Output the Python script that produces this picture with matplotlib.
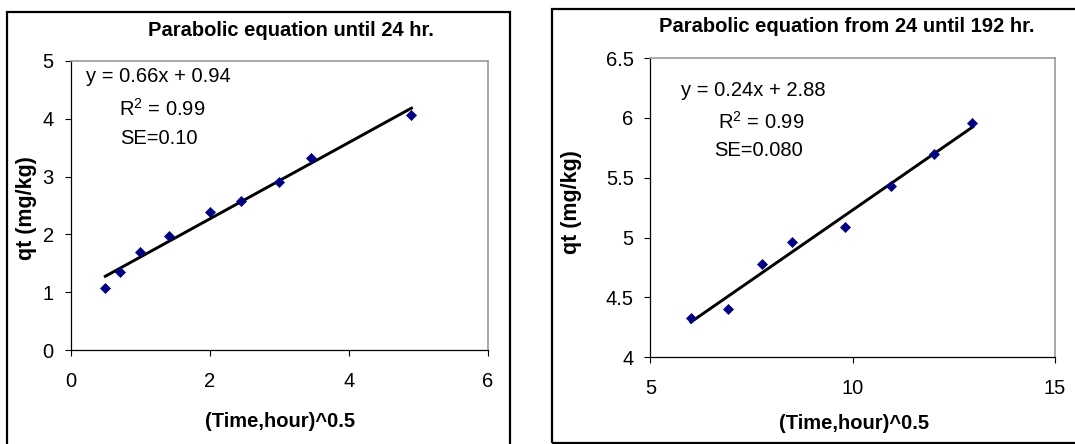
import numpy as np
import matplotlib
matplotlib.use('Agg')
import matplotlib.pyplot as plt
from matplotlib.patches import Rectangle

plt.rcParams['font.family'] = ['Liberation Sans', 'DejaVu Sans']
plt.rcParams['mathtext.fontset'] = 'custom'
plt.rcParams['mathtext.rm'] = 'Liberation Sans'
plt.rcParams['mathtext.it'] = 'Liberation Sans:italic'
plt.rcParams['mathtext.bf'] = 'Liberation Sans:bold'

# Data: (time, hour)^0.5 vs qt (mg/kg)
x_until24 = [0.5, 0.71, 1.0, 1.41, 2.0, 2.45, 3.0, 3.46, 4.9]
qt_until24 = [1.08, 1.35, 1.69, 1.97, 2.39, 2.57, 2.91, 3.33, 4.06]

x_24to192 = [6.0, 6.93, 7.75, 8.49, 9.8, 10.95, 12.0, 12.96]
qt_24to192 = [4.33, 4.40, 4.78, 4.96, 5.09, 5.43, 5.70, 5.955]

titles = ['Parabolic equation until 24 hr.', 'Parabolic equation from 24 until 192 hr.']
eq_texts = [['y = 0.66x + 0.94', r'R$\mathregular{^2}$ = 0.99', 'SE=0.10'],
            ['y = 0.24x + 2.88', r'R$\mathregular{^2}$ = 0.99', 'SE=0.080']]
x_ticks = [[0, 2, 4, 6], [5, 10, 15]]
y_ticks = [[0, 1, 2, 3, 4, 5], [4, 4.5, 5, 5.5, 6, 6.5]]
y_ticklabels = [['0', '1', '2', '3', '4', '5'], ['4', '4.5', '5', '5.5', '6', '6.5']]

W, H = 1075, 444
fig = plt.figure(figsize=(W / 100, H / 100), dpi=100)

def fx(px):
    return px / W

def fy(py):
    return 1 - py / H

FS = 14.5

# outer chart frames (pixel boxes: left, top, right, bottom)
for l, t, r, b in [(6.7, 12, 510, 447), (551.5, 9.3, 1077, 442.7)]:
    fig.patches.append(Rectangle((fx(l), fy(b)), fx(r - l), (b - t) / H, transform=fig.transFigure,
                                 fill=False, edgecolor='black', linewidth=1.6))

# axes boxes in pixels
boxes = [(70.5, 61, 488, 350), (650.4, 58, 1055, 357.3)]
datasets = [(x_until24, qt_until24), (x_24to192, qt_24to192)]
xlims = [(0, 6), (5, 15)]
ylims = [(0, 5), (4, 6.5)]

for i in range(2):
    l, t, r, b = boxes[i]
    ax = fig.add_axes([fx(l), fy(b), fx(r - l), (b - t) / H])
    xs, ys = datasets[i]
    ax.plot(xs, ys, linestyle='none', marker='D', markersize=5.5, color='#000080',
            markeredgewidth=0.5, zorder=3)
    # linear trendline
    slope, intercept = np.polyfit(xs, ys, 1)
    xx = np.array([min(xs), max(xs)])
    ax.plot(xx, slope * xx + intercept, color='black', linewidth=2.1, zorder=2)

    ax.set_xlim(*xlims[i])
    ax.set_ylim(*ylims[i])
    ax.set_xticks(x_ticks[i])
    ax.set_yticks(y_ticks[i])
    ax.set_yticklabels(y_ticklabels[i])
    ax.tick_params(direction='out', length=4.5, width=0.8, labelsize=FS, pad=7.5, color='black')
    ax.tick_params(axis='x', pad=11)
    for s in ['left', 'bottom']:
        ax.spines[s].set_color('black')
        ax.spines[s].set_linewidth(0.9)
    for s in ['top', 'right']:
        ax.spines[s].set_color('#999999')
        ax.spines[s].set_linewidth(1.2)

# titles, axis labels, equation labels
fig.text(fx(291), fy(30), titles[0], ha='center', va='center', fontsize=FS, fontweight='bold')
fig.text(fx(846.6), fy(26), titles[1], ha='center', va='center', fontsize=FS, fontweight='bold')

fig.text(fx(279.7), fy(421.7), '(Time,hour)^0.5', ha='center', va='center', fontsize=FS, fontweight='bold')
fig.text(fx(854.4), fy(423), '(Time,hour)^0.5', ha='center', va='center', fontsize=FS, fontweight='bold')

fig.text(fx(26.5), fy(208), 'qt (mg/kg)', ha='center', va='center', rotation=90, fontsize=15.5, fontweight='bold')
fig.text(fx(572), fy(202.5), 'qt (mg/kg)', ha='center', va='center', rotation=90, fontsize=15.5, fontweight='bold')

eq_pos = [[(86, 77), (118.8, 109), (120.5, 138)],
          [(681, 90), (717.5, 121.7), (714, 150)]]
for i in range(2):
    for txt, (px, py) in zip(eq_texts[i], eq_pos[i]):
        fig.text(fx(px), fy(py), txt, ha='left', va='center', fontsize=FS)

fig.savefig('out.png', dpi=100)
